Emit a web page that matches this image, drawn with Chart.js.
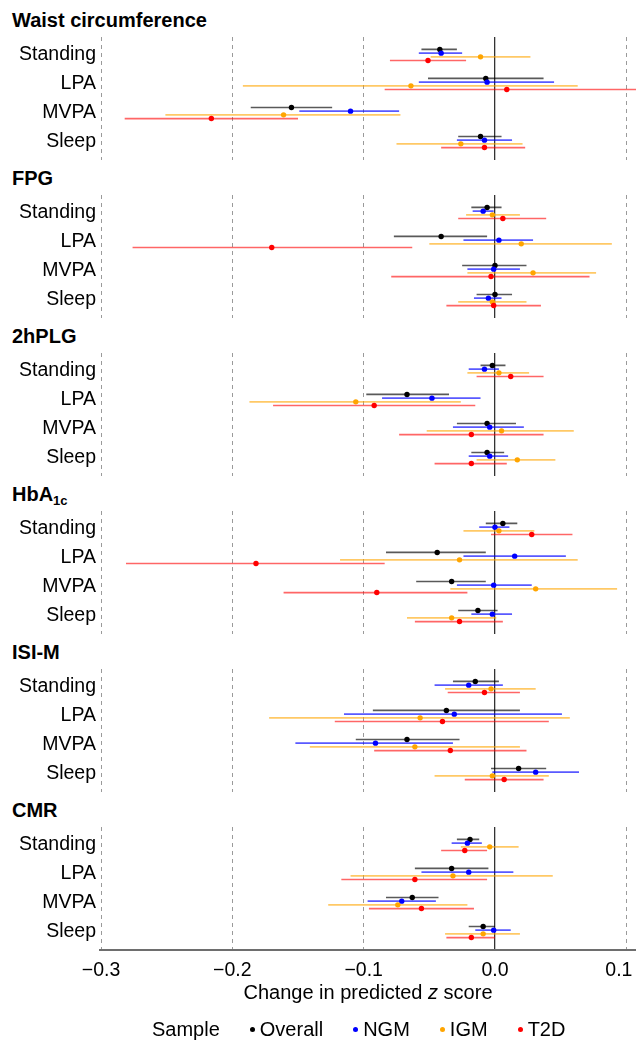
<!DOCTYPE html>
<html>
<head>
<meta charset="utf-8">
<script src="https://cdn.jsdelivr.net/npm/chart.js@4.4.1/dist/chart.umd.min.js"></script>
<style>
  body { margin: 0; width: 636px; height: 1040px; background: #fff; position: relative; overflow: hidden;
         font-family: 'Liberation Sans', Arial, sans-serif; color: #000; }
  .panel-title { position: absolute; left: 12px; font-weight: bold; font-size: 20px; line-height: 22px; }
  .panel-title sub { font-size: 13px; vertical-align: -4px; line-height: 0; }
  .chart-box { position: absolute; left: 0; width: 636px; }
  #xtitle { position: absolute; top: 980px; left: 100px; width: 536px; text-align: center; font-size: 20px; line-height: 24px; }
  #legend { position: absolute; top: 1017px; left: 152px; font-size: 20px; line-height: 24px; white-space: nowrap; }
  #legend span.item { margin-left: 30px; }
  #legend span.dot { display: inline-block; width: 5px; height: 5px; border-radius: 50%; margin-right: 5px; vertical-align: 4px; }
</style>
</head>
<body>
<div id="page"></div>
<div id="xtitle">Change in predicted <i>z</i> score</div>
<div id="legend"></div>

<script>
// Categorías, series y ticks
const categories = ['Standing', 'LPA', 'MVPA', 'Sleep'];
const seriesNames = ['Overall', 'NGM', 'IGM', 'T2D'];
const xTicks = [-0.3, -0.2, -0.1, 0, 0.1];

// Cada fila: [estimación, IC inferior, IC superior] para Standing, LPA, MVPA, Sleep
const waistOverall = [[-0.042, -0.056, -0.029], [-0.007, -0.051, 0.037], [-0.155, -0.186, -0.124], [-0.011, -0.028, 0.005]];
const waistNGM     = [[-0.041, -0.058, -0.025], [-0.006, -0.058, 0.045], [-0.110, -0.149, -0.073], [-0.008, -0.029, 0.013]];
const waistIGM     = [[-0.011, -0.049, 0.027], [-0.064, -0.192, 0.063], [-0.161, -0.251, -0.072], [-0.026, -0.075, 0.021]];
const waistT2D     = [[-0.051, -0.080, -0.022], [0.009, -0.084, 0.115], [-0.216, -0.282, -0.150], [-0.008, -0.041, 0.023]];

const fpgOverall = [[-0.006, -0.018, 0.005], [-0.041, -0.077, -0.006], [0.000, -0.025, 0.024], [0.000, -0.014, 0.013]];
const fpgNGM     = [[-0.009, -0.017, -0.001], [0.003, -0.024, 0.029], [-0.001, -0.021, 0.019], [-0.005, -0.016, 0.005]];
const fpgIGM     = [[-0.002, -0.022, 0.019], [0.020, -0.050, 0.089], [0.029, -0.021, 0.077], [-0.002, -0.028, 0.024]];
const fpgT2D     = [[0.006, -0.028, 0.039], [-0.170, -0.276, -0.063], [-0.003, -0.079, 0.072], [-0.001, -0.037, 0.035]];

const plgOverall = [[-0.002, -0.011, 0.008], [-0.067, -0.098, -0.035], [-0.006, -0.029, 0.016], [-0.006, -0.018, 0.007]];
const plgNGM     = [[-0.008, -0.020, 0.003], [-0.048, -0.086, -0.011], [-0.004, -0.032, 0.022], [-0.004, -0.020, 0.010]];
const plgIGM     = [[0.003, -0.021, 0.026], [-0.106, -0.187, -0.026], [0.005, -0.052, 0.060], [0.017, -0.014, 0.046]];
const plgT2D     = [[0.012, -0.014, 0.037], [-0.092, -0.169, -0.015], [-0.018, -0.073, 0.037], [-0.018, -0.046, 0.009]];

const hbaOverall = [[0.006, -0.007, 0.017], [-0.044, -0.083, -0.007], [-0.033, -0.060, -0.007], [-0.013, -0.028, 0.002]];
const hbaNGM     = [[0.000, -0.012, 0.011], [0.015, -0.024, 0.054], [-0.001, -0.029, 0.028], [-0.002, -0.018, 0.013]];
const hbaIGM     = [[0.003, -0.024, 0.030], [-0.027, -0.118, 0.063], [0.031, -0.034, 0.093], [-0.033, -0.067, 0.001]];
const hbaT2D     = [[0.028, -0.003, 0.059], [-0.182, -0.281, -0.084], [-0.090, -0.161, -0.021], [-0.027, -0.061, 0.006]];

const isiOverall = [[-0.015, -0.032, 0.003], [-0.037, -0.093, 0.019], [-0.067, -0.106, -0.027], [0.018, -0.003, 0.039]];
const isiNGM     = [[-0.020, -0.046, 0.006], [-0.031, -0.115, 0.051], [-0.091, -0.152, -0.032], [0.031, -0.002, 0.064]];
const isiIGM     = [[-0.003, -0.038, 0.031], [-0.057, -0.172, 0.057], [-0.061, -0.141, 0.019], [-0.002, -0.046, 0.041]];
const isiT2D     = [[-0.008, -0.036, 0.019], [-0.040, -0.122, 0.041], [-0.034, -0.092, 0.024], [0.007, -0.023, 0.037]];

const cmrOverall = [[-0.019, -0.029, -0.012], [-0.033, -0.061, -0.005], [-0.063, -0.083, -0.043], [-0.009, -0.020, 0.000]];
const cmrNGM     = [[-0.021, -0.033, -0.010], [-0.020, -0.056, 0.014], [-0.071, -0.097, -0.045], [-0.001, -0.015, 0.012]];
const cmrIGM     = [[-0.004, -0.026, 0.018], [-0.032, -0.110, 0.044], [-0.074, -0.127, -0.021], [-0.009, -0.038, 0.019]];
const cmrT2D     = [[-0.023, -0.041, -0.006], [-0.061, -0.117, -0.006], [-0.056, -0.096, -0.016], [-0.018, -0.037, 0.000]];

const panels = [
  { title: 'Waist circumference', series: [waistOverall, waistNGM, waistIGM, waistT2D] },
  { title: 'FPG', series: [fpgOverall, fpgNGM, fpgIGM, fpgT2D] },
  { title: '2hPLG', series: [plgOverall, plgNGM, plgIGM, plgT2D] },
  { title: 'HbA<sub>1c</sub>', series: [hbaOverall, hbaNGM, hbaIGM, hbaT2D] },
  { title: 'ISI-M', series: [isiOverall, isiNGM, isiIGM, isiT2D] },
  { title: 'CMR', series: [cmrOverall, cmrNGM, cmrIGM, cmrT2D] }
];

// Estilos
const pointColors = ['#000000', '#0000ff', '#ffa500', '#ff0000'];
const lineColors = ['rgba(0,0,0,0.65)', 'rgba(0,0,255,0.65)', 'rgba(255,165,0,0.6)', 'rgba(255,0,0,0.6)'];
const panelPitch = 158;
const rowGap = 0.127;
const fontFamily = "'Liberation Sans', Arial, sans-serif";

// Formato de los ticks del eje x (signo menos tipográfico)
function fmtTick(v) {
  const s = Math.abs(v).toFixed(1);
  if (v < -1e-9) return '\u2212' + s;
  if (v > 0.05) return s + '\u2007\u2009';
  return s;
}

const page = document.getElementById('page');

panels.forEach((panel, k) => {
  const isLast = k === panels.length - 1;

  const title = document.createElement('div');
  title.className = 'panel-title';
  title.style.top = (k * panelPitch + 9) + 'px';
  title.innerHTML = panel.title;
  page.appendChild(title);

  const box = document.createElement('div');
  box.className = 'chart-box';
  box.style.top = (k * panelPitch + 37) + 'px';
  box.style.height = (isLast ? 162 : 123) + 'px';
  const canvas = document.createElement('canvas');
  box.appendChild(canvas);
  page.appendChild(box);

  // Un dataset de intervalos y uno de puntos por serie
  const datasets = [];
  panel.series.forEach((rows, s) => {
    const off = (s - 1.5) * rowGap;
    const ci = [];
    rows.forEach((r, c) => {
      ci.push({ x: r[1], y: c + off }, { x: r[2], y: c + off }, { x: null, y: null });
    });
    datasets.push({
      type: 'line', label: seriesNames[s] + ' CI', data: ci,
      borderColor: lineColors[s], borderWidth: 1.7, pointRadius: 0,
      spanGaps: false, order: 100 - s * 2
    });
    datasets.push({
      type: 'scatter', label: seriesNames[s],
      data: rows.map((r, c) => ({ x: r[0], y: c + off })),
      backgroundColor: pointColors[s], borderWidth: 0, pointRadius: 2.7,
      order: 99 - s * 2
    });
  });

  new Chart(canvas.getContext('2d'), {
    type: 'scatter',
    data: { datasets },
    options: {
      responsive: true,
      maintainAspectRatio: false,
      animation: false,
      events: [],
      layout: { padding: 0, autoPadding: false },
      plugins: { legend: { display: false }, tooltip: { enabled: false } },
      scales: {
        x: {
          type: 'linear', min: -0.3008, max: 0.1074,
          afterBuildTicks: sc => { sc.ticks = xTicks.map(v => ({ value: v })); },
          afterFit: sc => { sc.height = isLast ? 39 : 0; sc.paddingLeft = 0; sc.paddingRight = 0; },
          ticks: {
            display: isLast, padding: 9, color: '#000',
            font: { family: fontFamily, size: 19.5 },
            maxRotation: 0, autoSkip: false,
            callback: v => fmtTick(v)
          },
          grid: {
            drawTicks: false,
            color: ctx => (ctx.tick && Math.abs(ctx.tick.value) < 1e-9) ? '#333333' : '#9a9a9a',
            lineWidth: ctx => (ctx.tick && Math.abs(ctx.tick.value) < 1e-9) ? 1.3 : 1
          },
          border: {
            display: isLast, color: '#6e6e6e', width: 2,
            dash: ctx => (ctx.tick && Math.abs(ctx.tick.value) > 1e-9) ? [4, 4] : []
          }
        },
        y: {
          type: 'linear', reverse: true, min: -0.62, max: 3.62,
          afterBuildTicks: sc => { sc.ticks = categories.map((c, i) => ({ value: i })); },
          afterFit: sc => { sc.width = 100; sc.paddingTop = 0; sc.paddingBottom = 0; },
          ticks: {
            padding: 4, color: '#000', autoSkip: false,
            font: { family: fontFamily, size: 19.5 },
            callback: v => categories[v]
          },
          grid: { display: false, drawTicks: false },
          border: { display: false }
        }
      }
    }
  });
});

// Leyenda
const legend = document.getElementById('legend');
legend.innerHTML = '<span>Sample</span>' + seriesNames.map((n, s) =>
  '<span class="item"><span class="dot" style="background:' + pointColors[s] + '"></span>' + n + '</span>').join('');
</script>
</body>
</html>
